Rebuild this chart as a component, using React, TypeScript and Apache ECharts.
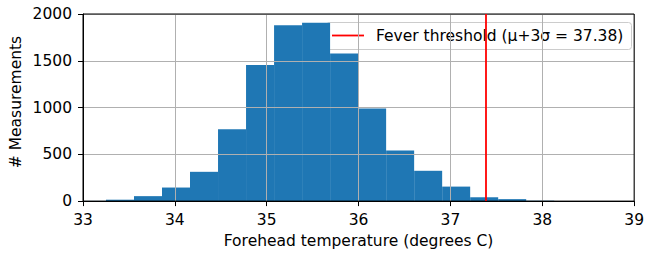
import React, { useEffect, useRef } from "react";
import * as echarts from "echarts";

const binEdges = [32.945, 33.25, 33.555, 33.86, 34.165, 34.47, 34.775, 35.08, 35.385, 35.69, 35.995, 36.3, 36.605, 36.91, 37.215, 37.52, 37.825, 38.13];
const binCounts = [2, 15, 53, 145, 313, 769, 1455, 1879, 1907, 1579, 989, 541, 324, 155, 41, 21, 4];
const threshold = 37.38;
const legendLabel = "Fever threshold (μ+3σ = 37.38)";
const xTicks = { min: 33, max: 39, interval: 1 };
const yTicks = { min: 0, max: 2000, interval: 500 };

const FONT = "DejaVu Sans";
const FS = 15.5;

export default function App() {
  const ref = useRef<HTMLDivElement>(null);
  useEffect(() => {
    if (!ref.current) return;
    const chart = echarts.init(ref.current, undefined, { renderer: "svg" });
    const histData = binCounts.map((c, i) => [binEdges[i], binEdges[i + 1], c]);
    chart.setOption({
      animation: false,
      textStyle: { fontFamily: FONT },
      grid: {
        left: 83,
        right: 9,
        top: 14,
        bottom: 47,
        show: true,
        z: 4,
        backgroundColor: "transparent",
        borderColor: "#000",
        borderWidth: 1,
      },
      xAxis: {
        type: "value",
        min: xTicks.min,
        max: xTicks.max,
        interval: xTicks.interval,
        z: 3,
        name: "Forehead temperature (degrees C)",
        nameLocation: "middle",
        nameGap: 31,
        nameTextStyle: { fontFamily: FONT, fontSize: FS, color: "#000" },
        axisLine: { show: true, onZero: false, lineStyle: { color: "#000", width: 1 } },
        axisTick: { show: true, length: 5, lineStyle: { color: "#000", width: 1 } },
        axisLabel: { fontFamily: FONT, fontSize: FS, color: "#000", margin: 11 },
        splitLine: { show: true, lineStyle: { color: "#b0b0b0", width: 1 } },
      },
      yAxis: {
        type: "value",
        min: yTicks.min,
        max: yTicks.max,
        interval: yTicks.interval,
        z: 3,
        axisLine: { show: true, lineStyle: { color: "#000", width: 1 } },
        axisTick: { show: true, length: 5, lineStyle: { color: "#000", width: 1 } },
        axisLabel: {
          fontFamily: FONT,
          fontSize: FS,
          color: "#000",
          margin: 11,
          formatter: (v: number) => String(v),
        },
        splitLine: { show: true, lineStyle: { color: "#b0b0b0", width: 1 } },
      },
      series: [
        {
          type: "custom",
          z: 2,
          data: histData,
          encode: { x: [0, 1], y: 2 },
          renderItem: (params: any, api: any) => {
            const x0 = api.value(0);
            const x1 = api.value(1);
            const c = api.value(2);
            const p0 = api.coord([x0, c]);
            const p1 = api.coord([x1, 0]);
            const cs = params.coordSys;
            const rect = echarts.graphic.clipRectByRect(
              { x: p0[0], y: p0[1], width: p1[0] - p0[0], height: p1[1] - p0[1] },
              { x: cs.x, y: cs.y, width: cs.width, height: cs.height }
            );
            if (!rect) return null;
            return {
              type: "rect",
              shape: rect,
              style: { fill: "#1f77b4" },
            };
          },
        },
        {
          type: "line",
          name: legendLabel,
          z: 5,
          data: [],
          markLine: {
            silent: true,
            symbol: ["none", "none"],
            label: { show: false },
            lineStyle: { color: "#ff0000", width: 1.8, type: "solid" },
            data: [{ xAxis: threshold }],
          },
        },
      ],
      graphic: [
        {
          type: "text",
          x: 16,
          y: 102,
          rotation: Math.PI / 2,
          style: {
            text: "# Measurements",
            fontFamily: FONT,
            fontSize: FS,
            fill: "#000",
            align: "center",
            verticalAlign: "middle",
          },
        },
        {
          type: "group",
          z: 10,
          children: [
            {
              type: "rect",
              shape: { x: 326.5, y: 22.5, width: 305, height: 27, r: 3 },
              style: { fill: "rgba(255,255,255,0.8)", stroke: "#cccccc", lineWidth: 1 },
            },
            {
              type: "line",
              shape: { x1: 332, y1: 35.5, x2: 364, y2: 35.5 },
              style: { stroke: "#ff0000", lineWidth: 1.8 },
            },
            {
              type: "text",
              x: 376,
              y: 36,
              style: {
                text: legendLabel,
                fontFamily: FONT,
                fontSize: FS,
                fill: "#000",
                align: "left",
                verticalAlign: "middle",
              },
            },
          ],
        },
      ],
    });
    return () => chart.dispose();
  }, []);
  return (
    <div
      ref={ref}
      style={{ position: "fixed", left: 0, top: 0, width: 647, height: 254, background: "#fff" }}
    />
  );
}
